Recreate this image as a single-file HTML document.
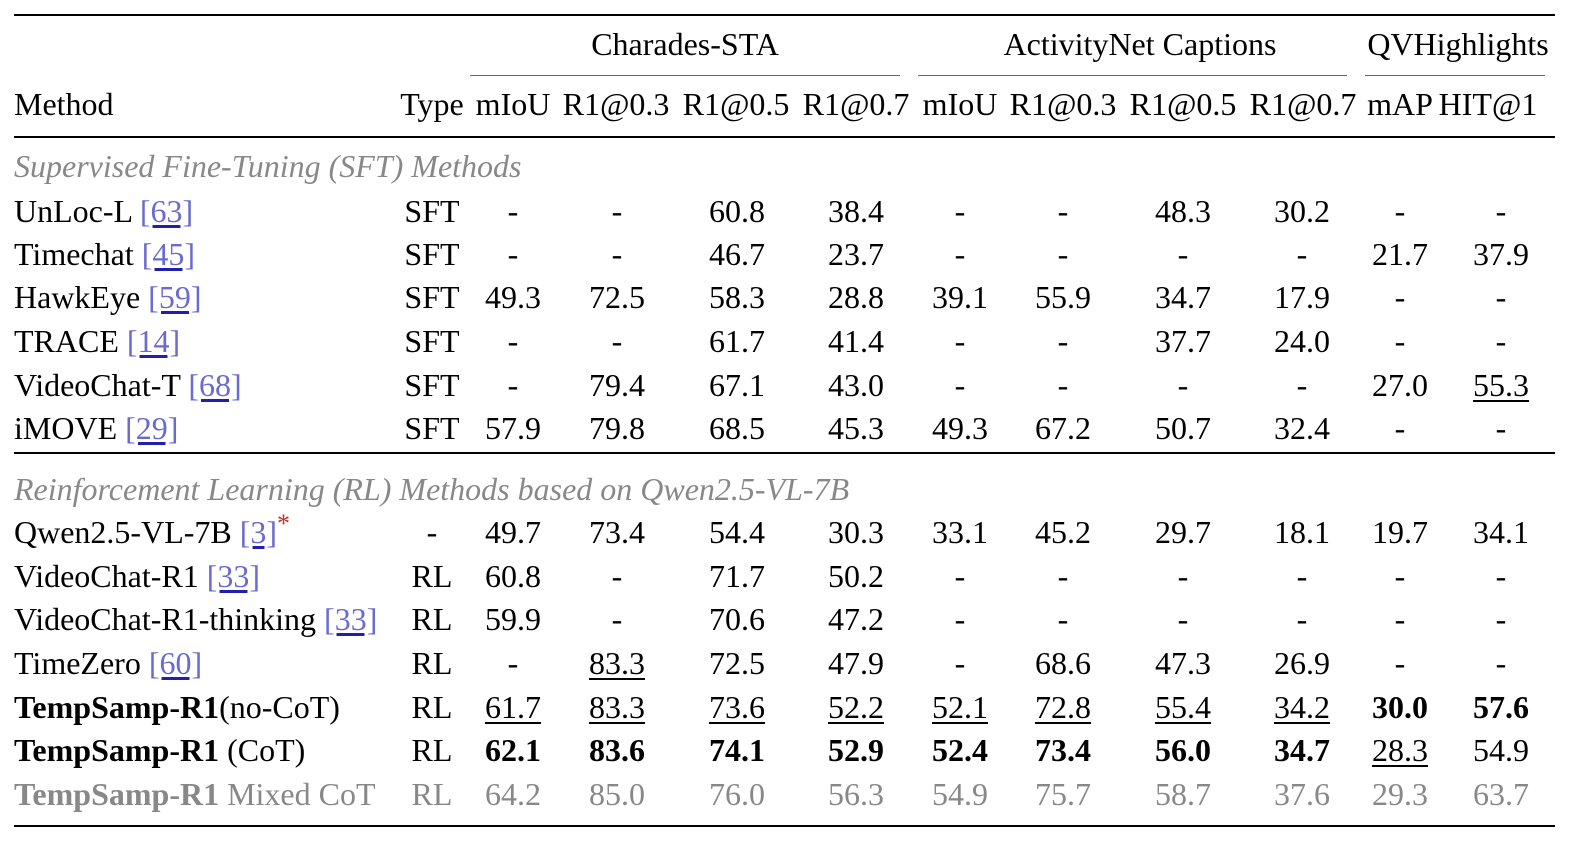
<!DOCTYPE html>
<html><head><meta charset="utf-8"><style>
body{margin:0;width:1590px;height:844px;background:#fff;position:relative;overflow:hidden;font-family:"Liberation Serif",serif;font-size:32px;color:#000}
.c{position:absolute;height:40px;line-height:40px;white-space:nowrap;transform:translateX(-50%)}
.l{position:absolute;height:40px;line-height:40px;white-space:nowrap}
.r{position:absolute;background:#000}
.u{text-decoration:underline;text-decoration-thickness:1.5px;text-underline-offset:4px}
a{color:#6a6ad0;text-decoration:underline;text-decoration-color:#2020b0;text-underline-offset:3px}
.g{color:#888}
.sec{font-style:italic;color:#888}
b{font-weight:bold}
sup{line-height:0;vertical-align:top;position:relative;top:12px}
</style></head><body>
<div class="r" style="left:14px;top:14px;width:1541px;height:2px"></div>
<div class="r" style="left:470px;top:75px;width:430px;height:1px;background:#666"></div>
<div class="r" style="left:918px;top:75px;width:429px;height:1px;background:#666"></div>
<div class="r" style="left:1365px;top:75px;width:180px;height:1px;background:#666"></div>
<div class="r" style="left:14px;top:136px;width:1541px;height:1.5px"></div>
<div class="r" style="left:14px;top:452px;width:1541px;height:1.5px"></div>
<div class="r" style="left:14px;top:825px;width:1541px;height:2px"></div>
<div id="t"></div>
<script>
const T=document.getElementById('t');
function cell(cls,x,y,h){const d=document.createElement('div');d.className=cls;d.style.left=x+'px';d.style.top=(y-20)+'px';d.innerHTML=h;T.appendChild(d);}
cell('c',685,44,'Charades-STA');cell('c',1140,44,'ActivityNet Captions');cell('c',1458,44,'QVHighlights');
cell('l',14,104,'Method');cell('c',432,104,'Type');
const hx=[513,616,736,856,960,1063,1183,1303,1400,1488];
const hn=['mIoU','R1@0.3','R1@0.5','R1@0.7','mIoU','R1@0.3','R1@0.5','R1@0.7','mAP','HIT@1'];
hx.forEach((x,i)=>cell('c',x,104,hn[i]));
const dx=[513,617,737,856,960,1063,1183,1302,1400,1501];
cell('l',14,166,'<span class="sec">Supervised Fine-Tuning (SFT) Methods</span>');
cell('l',14,489,'<span class="sec">Reinforcement Learning (RL) Methods based on Qwen2.5-VL-7B</span>');
const rows=[
[211,'UnLoc-L <a>[63]</a>','SFT','- - 60.8 38.4 - - 48.3 30.2 - -'],
[254,'Timechat <a>[45]</a>','SFT','- - 46.7 23.7 - - - - 21.7 37.9'],
[297,'HawkEye <a>[59]</a>','SFT','49.3 72.5 58.3 28.8 39.1 55.9 34.7 17.9 - -'],
[341,'TRACE <a>[14]</a>','SFT','- - 61.7 41.4 - - 37.7 24.0 - -'],
[385,'VideoChat-T <a>[68]</a>','SFT','- 79.4 67.1 43.0 - - - - 27.0 _55.3'],
[428,'iMOVE <a>[29]</a>','SFT','57.9 79.8 68.5 45.3 49.3 67.2 50.7 32.4 - -'],
[532,'Qwen2.5-VL-7B <a>[3]</a><sup style="color:#c03020;font-size:26px">*</sup>','-','49.7 73.4 54.4 30.3 33.1 45.2 29.7 18.1 19.7 34.1'],
[576,'VideoChat-R1 <a>[33]</a>','RL','60.8 - 71.7 50.2 - - - - - -'],
[619,'VideoChat-R1-thinking <a>[33]</a>','RL','59.9 - 70.6 47.2 - - - - - -'],
[663,'TimeZero <a>[60]</a>','RL','- _83.3 72.5 47.9 - 68.6 47.3 26.9 - -'],
[707,'<b>TempSamp-R1</b>(no-CoT)','RL','_61.7 _83.3 _73.6 _52.2 _52.1 _72.8 _55.4 _34.2 *30.0 *57.6'],
[750,'<b>TempSamp-R1</b> (CoT)','RL','*62.1 *83.6 *74.1 *52.9 *52.4 *73.4 *56.0 *34.7 _28.3 54.9'],
[794,'<span class="g"><b>TempSamp-R1</b> Mixed CoT</span>','<span class="g">RL</span>','%64.2 %85.0 %76.0 %56.3 %54.9 %75.7 %58.7 %37.6 %29.3 %63.7']
];
rows.forEach(([y,m,t,v])=>{
 cell('l',14,y,m);cell('c',432,y,t);
 v.split(' ').forEach((s,i)=>{let h=s;
  if(s[0]=='_')h='<span class="u">'+s.slice(1)+'</span>';
  else if(s[0]=='*')h='<b>'+s.slice(1)+'</b>';
  else if(s[0]=='%')h='<span class="g">'+s.slice(1)+'</span>';
  cell('c',dx[i],y,h);});
});
</script>
</body></html>
